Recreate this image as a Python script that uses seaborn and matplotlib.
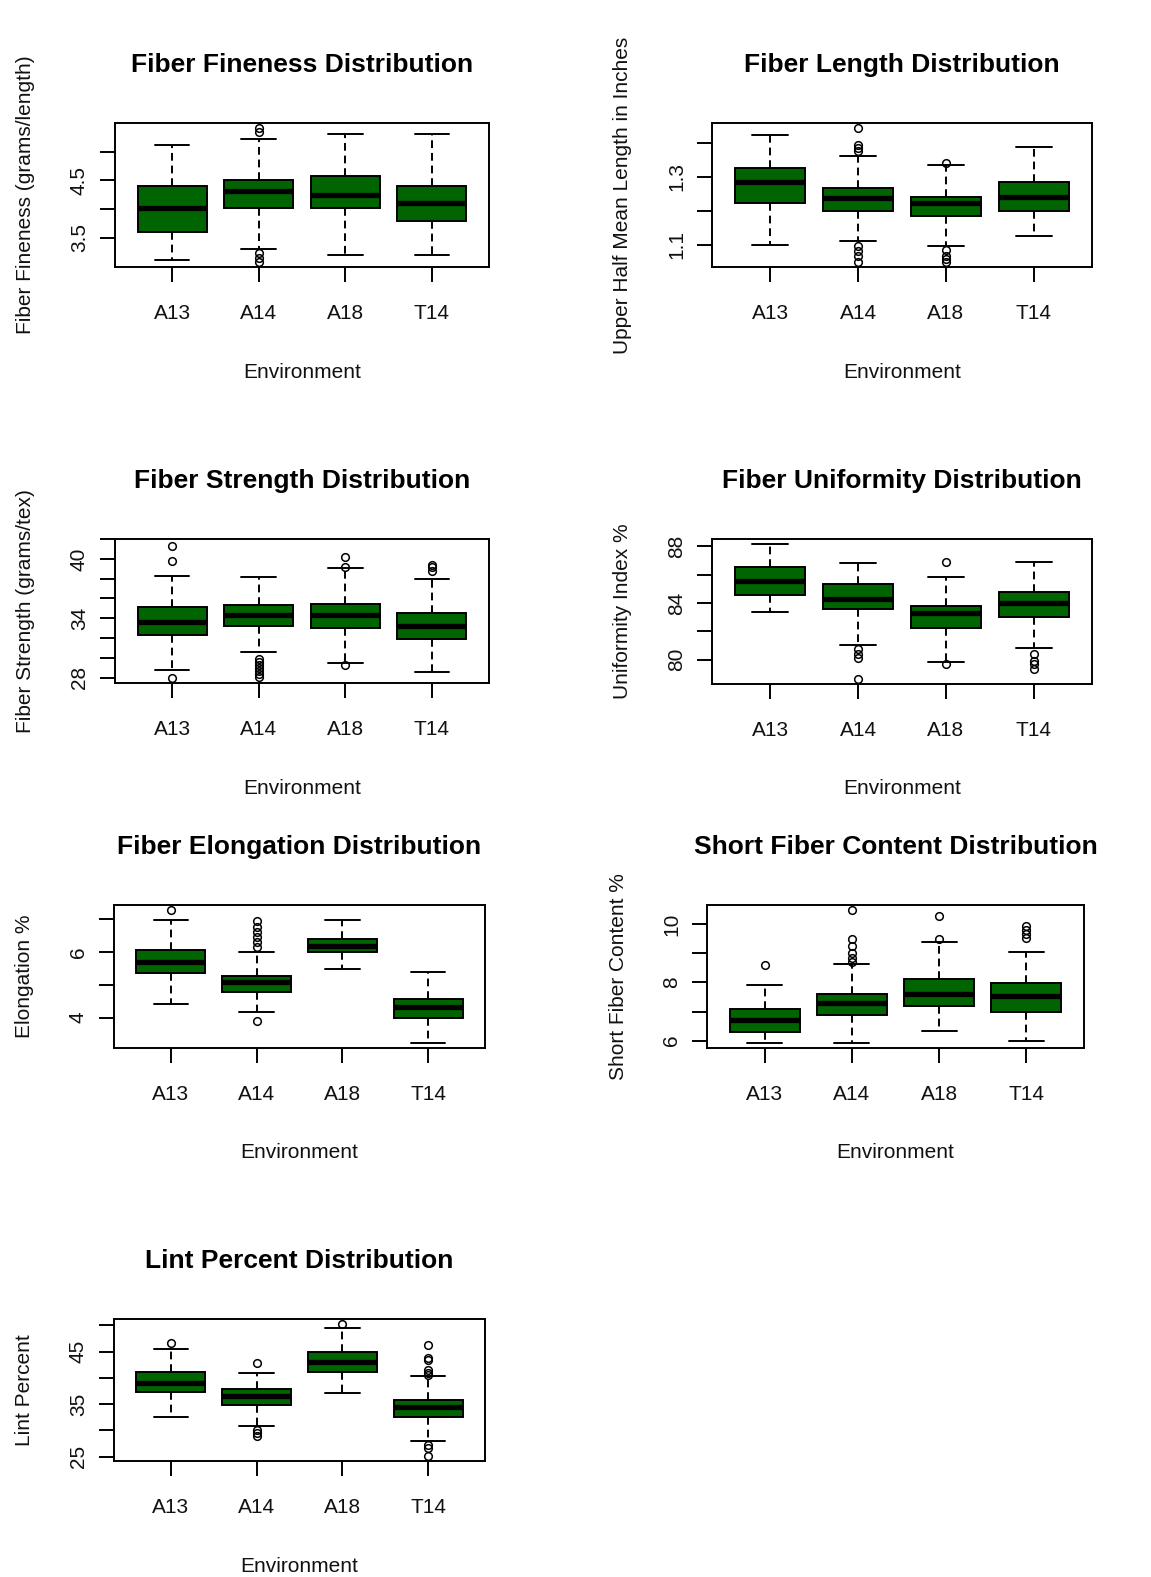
import numpy as np
import matplotlib
matplotlib.use("Agg")
import matplotlib.pyplot as plt
import seaborn as sns

# ---- data ----
envs = ["A13", "A14", "A18", "T14"]

fine_q1 = [3.59, 4.01, 4.01, 3.79]
fine_med = [4.02, 4.31, 4.25, 4.11]
fine_q3 = [4.41, 4.50, 4.57, 4.41]
fine_lo = [3.11, 3.31, 3.20, 3.20]
fine_hi = [5.12, 5.22, 5.31, 5.31]
fine_out = [[], [5.41, 5.35, 3.24, 3.15, 3.08], [], []]

len_q1 = [1.222, 1.199, 1.183, 1.199]
len_med = [1.285, 1.236, 1.223, 1.241]
len_q3 = [1.324, 1.268, 1.241, 1.284]
len_lo = [1.100, 1.112, 1.096, 1.124]
len_hi = [1.422, 1.361, 1.335, 1.388]
len_out = [[], [1.442, 1.394, 1.384, 1.374, 1.097, 1.082, 1.066, 1.050],
           [1.340, 1.085, 1.067, 1.057, 1.050], []]

str_q1 = [32.29, 33.20, 33.00, 31.86]
str_med = [33.60, 34.37, 34.37, 33.23]
str_q3 = [35.17, 35.31, 35.48, 34.57]
str_lo = [28.74, 30.61, 29.47, 28.57]
str_hi = [38.26, 38.12, 39.06, 37.92]
str_out = [[41.31, 39.80, 28.0],
           [29.9, 29.6, 29.3, 29.0, 28.7, 28.4, 28.1],
           [40.14, 39.20, 29.24],
           [39.40, 39.13, 38.79]]

uni_q1 = [84.53, 83.57, 82.23, 83.02]
uni_med = [85.53, 84.29, 83.31, 83.98]
uni_q3 = [86.56, 85.37, 83.76, 84.81]
uni_lo = [83.33, 81.05, 79.86, 80.79]
uni_hi = [88.14, 86.80, 85.87, 86.92]
uni_out = [[], [80.74, 80.38, 80.14, 78.66], [86.92, 79.71],
           [80.38, 79.90, 79.66, 79.35]]

elo_q1 = [5.36, 4.79, 5.99, 4.00]
elo_med = [5.70, 5.08, 6.20, 4.31]
elo_q3 = [6.06, 5.27, 6.41, 4.58]
elo_lo = [4.41, 4.18, 5.49, 3.23]
elo_hi = [6.99, 6.00, 6.99, 5.38]
elo_out = [[7.28], [6.94, 6.78, 6.63, 6.47, 6.32, 6.16, 3.90], [], []]

sfc_q1 = [6.30, 6.88, 7.20, 7.00]
sfc_med = [6.70, 7.29, 7.60, 7.53]
sfc_q3 = [7.08, 7.60, 8.11, 7.98]
sfc_lo = [5.93, 5.93, 6.32, 6.00]
sfc_hi = [7.91, 8.62, 9.38, 9.05]
sfc_out = [[8.61], [10.48, 9.50, 9.24, 9.01, 8.84, 8.72], [10.28, 9.50],
           [9.93, 9.82, 9.68, 9.53]]

lint_q1 = [37.34, 34.87, 41.20, 32.53]
lint_med = [38.99, 36.46, 42.97, 34.37]
lint_q3 = [41.08, 37.85, 44.87, 35.82]
lint_lo = [32.53, 30.82, 37.15, 28.04]
lint_hi = [45.57, 41.01, 49.43, 40.32]
lint_out = [[46.58], [42.78, 30.13, 29.49, 28.99], [50.19],
            [46.2, 43.73, 43.42, 41.52, 41.01, 40.57, 27.28, 26.65, 25.19]]

titles = ["Fiber Fineness Distribution", "Fiber Length Distribution",
          "Fiber Strength Distribution", "Fiber Uniformity Distribution",
          "Fiber Elongation Distribution", "Short Fiber Content Distribution",
          "Lint Percent Distribution"]
ylabels = ["Fiber Fineness (grams/length)", "Upper Half Mean Length in Inches",
           "Fiber Strength (grams/tex)", "Uniformity Index %",
           "Elongation %", "Short Fiber Content %", "Lint Percent"]
yticks = [[3.5, 4.0, 4.5, 5.0], [1.1, 1.2, 1.3, 1.4],
          [28, 30, 32, 34, 36, 38, 40, 42], [80, 82, 84, 86, 88],
          [4, 5, 6, 7], [6, 7, 8, 9, 10], [25, 30, 35, 40, 45, 50]]
ytick_labels = [["3.5", "", "4.5", ""], ["1.1", "", "1.3", ""],
                ["28", "", "", "34", "", "", "40", ""],
                ["80", "", "84", "", "88"], ["4", "", "6", ""],
                ["6", "", "8", "", "10"], ["25", "", "35", "", "45", ""]]

panels = [
    (fine_q1, fine_med, fine_q3, fine_lo, fine_hi, fine_out),
    (len_q1, len_med, len_q3, len_lo, len_hi, len_out),
    (str_q1, str_med, str_q3, str_lo, str_hi, str_out),
    (uni_q1, uni_med, uni_q3, uni_lo, uni_hi, uni_out),
    (elo_q1, elo_med, elo_q3, elo_lo, elo_hi, elo_out),
    (sfc_q1, sfc_med, sfc_q3, sfc_lo, sfc_hi, sfc_out),
    (lint_q1, lint_med, lint_q3, lint_lo, lint_hi, lint_out),
]

# axes boxes in pixels: left, right, top, bottom
boxes_px = [(115, 489, 123, 267), (712, 1092, 123, 267),
            (115, 489, 539, 683), (712, 1092, 539, 684),
            (114, 485, 905, 1048), (707, 1084, 905, 1048),
            (114, 485, 1319, 1461)]

sns.set_style("white")
plt.rcParams['font.family'] = ['Liberation Sans', 'DejaVu Sans']

W, H = 1151, 1577
fig = plt.figure(figsize=(W / 100, H / 100), dpi=100)

green = "#006400"
txt = "#111111"
for i, (q1, med, q3, lo, hi, out) in enumerate(panels):
    l, r, t, b = boxes_px[i]
    ax = fig.add_axes([l / W, 1 - b / H, (r - l) / W, (b - t) / H])
    stats = []
    for k, env in enumerate(envs):
        stats.append(dict(label=env, q1=q1[k], med=med[k], q3=q3[k],
                          whislo=lo[k], whishi=hi[k], fliers=out[k]))
    ax.bxp(stats, positions=[1, 2, 3, 4], widths=0.8, capwidths=0.4,
           patch_artist=True,
           boxprops=dict(facecolor=green, edgecolor="black", linewidth=1.4),
           medianprops=dict(color="black", linewidth=3.8, solid_capstyle="butt"),
           whiskerprops=dict(color="black", linewidth=1.4,
                             linestyle=(0, (4, 2.5))),
           capprops=dict(color="black", linewidth=1.4),
           flierprops=dict(marker="o", markerfacecolor="none",
                           markeredgecolor="black", markersize=5.5,
                           markeredgewidth=1.1, linestyle="none"))
    # R style limits: 4% padding around data range
    allv = lo + hi + [v for o in out for v in o]
    vmin, vmax = min(allv), max(allv)
    pad = 0.04 * (vmax - vmin)
    ax.set_ylim(vmin - pad, vmax + pad)
    ax.set_xlim(0.34, 4.66)
    ax.set_yticks(yticks[i])
    ax.set_yticklabels(ytick_labels[i], rotation=90, va="center")
    ax.set_xticks([1, 2, 3, 4])
    ax.set_xticklabels(envs)
    ax.tick_params(axis="both", direction="out", length=10.8, width=1.4,
                   color="black", labelsize=15, labelcolor=txt,
                   left=True, bottom=True)
    ax.tick_params(axis="x", pad=16)
    ax.tick_params(axis="y", pad=8)
    for sp in ax.spines.values():
        sp.set_visible(True)
        sp.set_color("black")
        sp.set_linewidth(1.4)
    ax.grid(False)
    hpx = b - t
    wpx = r - l
    ax.set_xlabel("Environment", fontsize=15, color=txt)
    ax.xaxis.label.set_va("center")
    ax.xaxis.set_label_coords(0.5, -105 / hpx)
    ax.set_ylabel(ylabels[i], fontsize=15, color=txt)
    ax.yaxis.label.set_va("center")
    ax.yaxis.set_label_coords(-89 / wpx, 0.5)
    ax.set_title(titles[i], fontsize=19, fontweight="bold", color="black",
                 y=1 + 58 / hpx, va="center", pad=0)

fig.savefig("out.png", dpi=100, facecolor="white")
